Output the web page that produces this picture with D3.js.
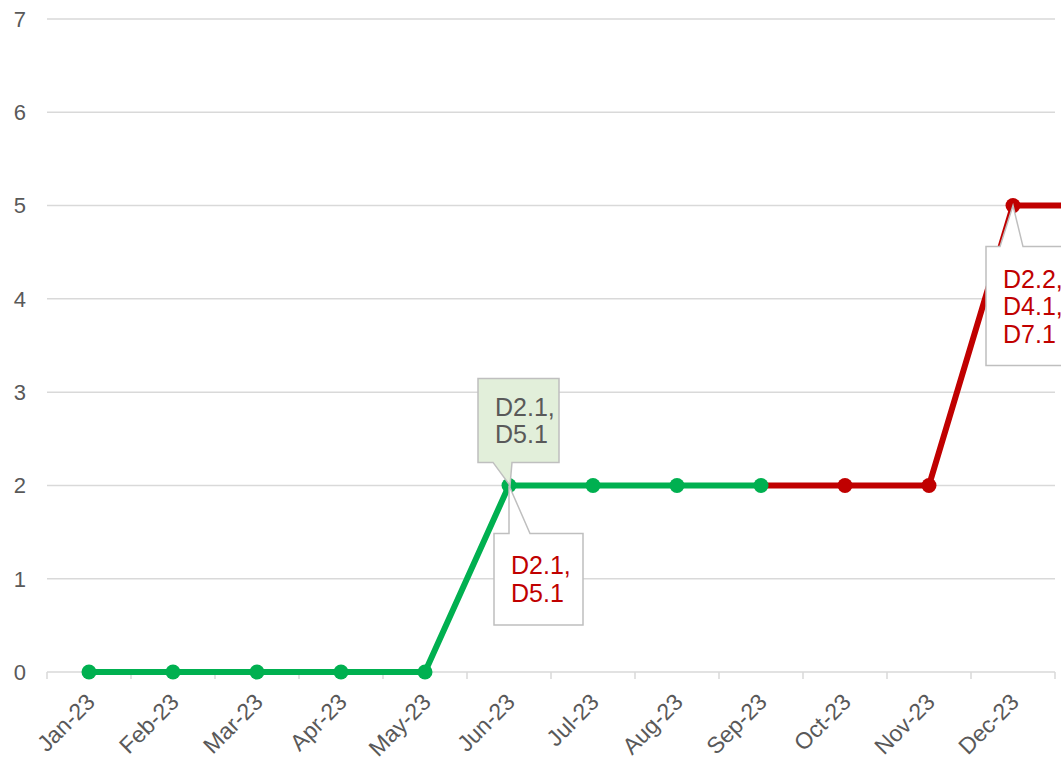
<!DOCTYPE html>
<html>
<head>
<meta charset="utf-8">
<script src="https://cdn.jsdelivr.net/npm/d3@7"></script>
<style>
 body{margin:0;background:#fff;}
 svg{display:block;font-family:"Liberation Sans",Arial,sans-serif;}
 .grid line{stroke:#d9d9d9;stroke-width:1.5;}
 .yaxis text{fill:#595959;font-size:22px;}
 .xaxis text{fill:#595959;font-size:22px;}
 .xaxis line{stroke:#d9d9d9;stroke-width:1.5;}
</style>
</head>
<body>
<div id="chartDiv"></div>
<script>
// Data
var months = ["Jan-23","Feb-23","Mar-23","Apr-23","May-23","Jun-23",
              "Jul-23","Aug-23","Sep-23","Oct-23","Nov-23","Dec-23","Jan-24"];
var counts = [0,0,0,0,0,2,2,2,2,2,2,5,5];
var pointStatus = ["ok","ok","ok","ok","ok","ok","ok","ok","ok","late","late","late","late"];
var yTicks = [0,1,2,3,4,5,6,7];
var shownMonths = months.slice(0,12);   // last one runs off the edge
// callouts: which month, which side, text lines
var calloutMonth = ["Jun-23","Jun-23","Dec-23"];
var calloutKind  = ["above","below","below"];
var calloutLines = [["D2.1,","D5.1"],["D2.1,","D5.1"],["D2.2,","D4.1,","D7.1"]];

var W = 1061, H = 758;
var plotLeft = 47, plotRight = 1055, plotTop = 19, plotBottom = 672;
var step = (plotRight-plotLeft)/shownMonths.length;
var colors = {ok:"#00B050", late:"#C00000"};

var svg = d3.select("#chartDiv").append("svg")
 .attr("width",W).attr("height",H);

var xScale = d3.scaleBand().domain(months)
 .range([plotLeft, plotLeft + step*months.length]).padding(0);
var yScale = d3.scaleLinear().domain([0,7]).range([plotBottom, plotTop]);
var cx = d => xScale(d) + xScale.bandwidth()/2;

// gridlines
svg.append("g").attr("class","grid")
 .selectAll("line").data(yTicks.filter(d => d>0)).enter().append("line")
 .attr("x1",plotLeft).attr("x2",plotRight)
 .attr("y1",d => yScale(d)).attr("y2",d => yScale(d));

// y labels
svg.append("g").attr("class","yaxis")
 .selectAll("text").data(yTicks).enter().append("text")
 .attr("x",26).attr("y",d => yScale(d)).attr("dy","0.36em")
 .attr("text-anchor","end").text(d => d);

// x axis (only the visible months)
var xAxisScale = d3.scaleBand().domain(shownMonths).range([plotLeft,plotRight]);
var xg = svg.append("g").attr("class","xaxis")
 .attr("transform","translate(0,"+plotBottom+")");
xg.append("line").attr("x1",plotLeft).attr("x2",plotRight).attr("y1",0).attr("y2",0);
xg.selectAll("line.tick").data(d3.range(shownMonths.length+1)).enter().append("line")
 .attr("class","tick")
 .attr("x1",i => plotLeft+i*step).attr("x2",i => plotLeft+i*step)
 .attr("y1",0).attr("y2",7);
xg.selectAll("text").data(shownMonths).enter().append("text")
 .attr("transform",d => "translate(" + (xAxisScale(d)+xAxisScale.bandwidth()/2-4) + ",20) rotate(-45)")
 .attr("text-anchor","end").attr("dy","0.7em")
 .style("font-size","23px")
 .text(d => d);

// line segments, coloured by the status of the end point
var pts = months.map((m,i) => ({m:m, v:counts[i], s:pointStatus[i]}));
var segs = d3.range(pts.length-1).map(i => [pts[i],pts[i+1]]);
svg.append("g").selectAll("line").data(segs).enter().append("line")
 .attr("x1",d => cx(d[0].m)).attr("y1",d => yScale(d[0].v))
 .attr("x2",d => cx(d[1].m)).attr("y2",d => yScale(d[1].v))
 .attr("stroke",d => colors[d[1].s]).attr("stroke-width",6)
 .attr("stroke-linecap","round");

svg.append("g").selectAll("circle").data(pts).enter().append("circle")
 .attr("cx",d => cx(d.m)).attr("cy",d => yScale(d.v)).attr("r",7.5)
 .attr("fill",d => colors[d.s]);

// callouts
calloutMonth.forEach(function(m,i){
 var idx = months.indexOf(m);
 var px = cx(m), py = yScale(counts[idx]);
 var lines = calloutLines[i], kind = calloutKind[i];
 var g = svg.append("g");
 var bw, bh, bx, by, path, fill, tcol;
 if(kind=="above"){
  bw = 81; bh = 84; bx = px-31; by = py-107;
  path = "M"+bx+","+by+"H"+(bx+bw)+"V"+(by+bh)+"H"+(px+3)+"L"+(px+1)+","+py+
         "L"+(px-16)+","+(by+bh)+"H"+bx+"Z";
  fill = "#E2EFDA"; tcol = "#595959";
 } else {
  bw = 89; bh = 64 + (lines.length-1)*27.5; bx = px-(idx==5?15:27); by = py+(idx==5?48:41);
  var t0 = px-(idx==5?0:13), t1 = px+(idx==5?21:10);
  path = "M"+bx+","+by+"H"+t0+"L"+px+","+py+"L"+t1+","+by+"H"+(bx+bw)+
         "V"+(by+bh)+"H"+bx+"Z";
  fill = "#ffffff"; tcol = "#C00000";
 }
 g.append("path").attr("d",path).attr("fill",fill)
  .attr("stroke","#bfbfbf").attr("stroke-width",1.5);
 var cyM = by + bh/2, n = lines.length;
 g.selectAll("text").data(lines).enter().append("text")
  .attr("x",bx+17).attr("y",(d,j) => cyM + (j-(n-1)/2)*27.5)
  .attr("dy","0.36em").attr("text-anchor","start")
  .style("font-size","25px").style("fill",tcol).text(d => d);
});
</script>
</body>
</html>
